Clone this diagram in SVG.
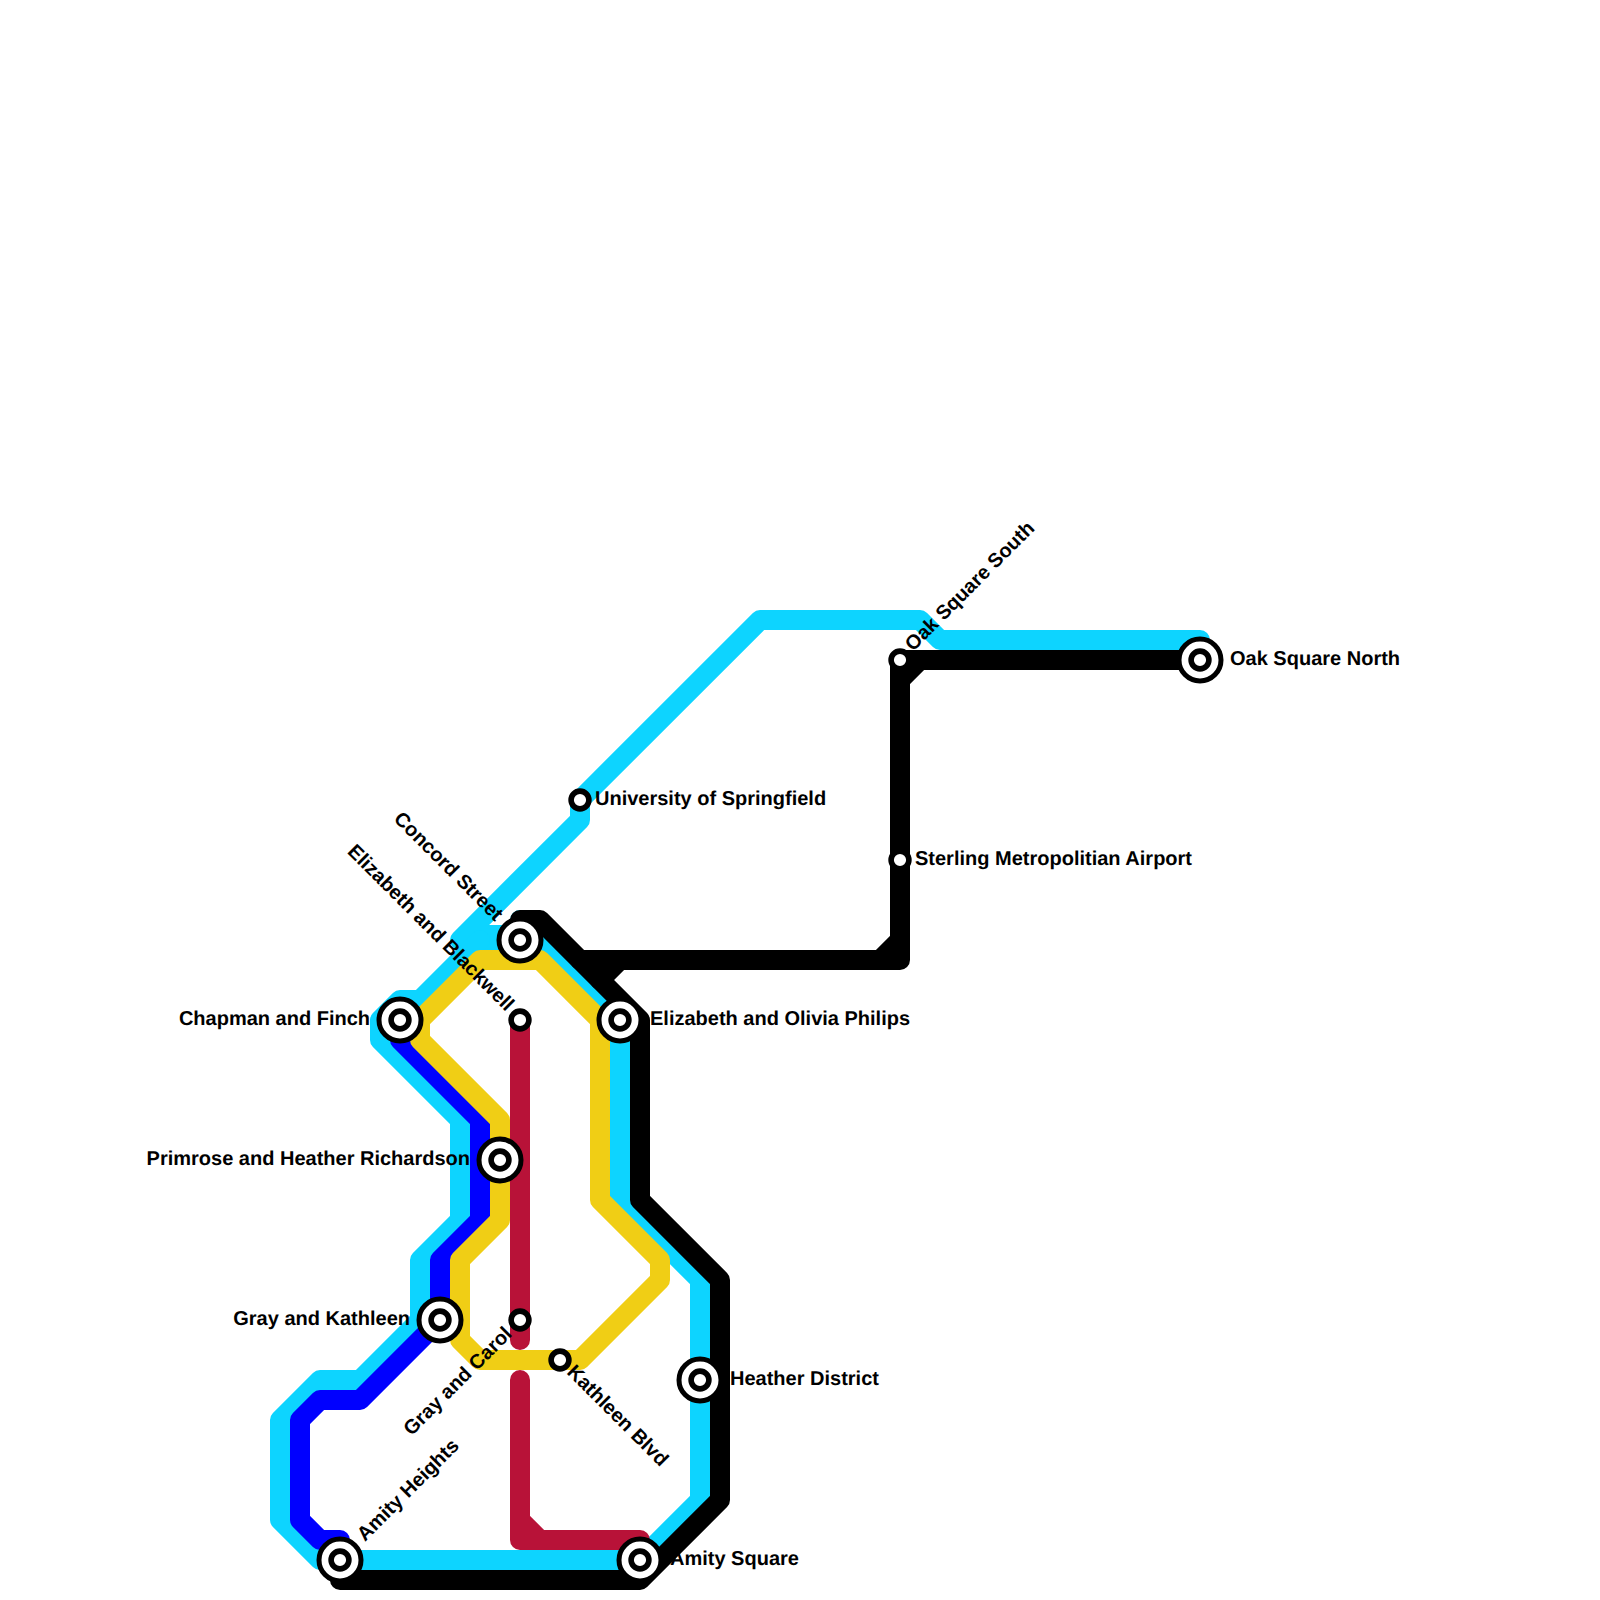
<svg xmlns="http://www.w3.org/2000/svg" width="1600" height="1600" viewBox="0 0 1600 1600">
<style>
.l{fill:none;stroke-width:20;stroke-linejoin:round;stroke-linecap:round}
.c{stroke:#0dd4ff}.b{stroke:#0000ff}.r{stroke:#b81238}.y{stroke:#f0ce15}.k{stroke:#000}
.o{fill:#fff;stroke:#000;stroke-width:5}
.s{fill:#fff;stroke:#000;stroke-width:5.6}
text{font-family:"Liberation Sans",Arial,sans-serif;font-weight:700;font-size:20px;fill:#000;text-rendering:geometricPrecision}
.e{text-anchor:end}
</style>
<g id="connectors">
<path class="l c" d="M1200 640H940L920 620H760L580 800V820L460 940H520M480 935H505"/>
<path class="l c" d="M480 940L420 1000H400L380 1020V1040L460 1120V1220L420 1260V1320L360 1380H320L280 1420V1520L320 1560H640L700 1500V1280L620 1200V1020L520 920"/>
<path class="l b" d="M400 1020V1040L480 1120V1220L440 1260V1320L360 1400H320L300 1420V1520L320 1540H340"/>
<path class="l r" d="M520 1020V1340M520 1380V1520L540 1540H640M520 1520V1540H540"/>
<path class="l y" d="M420 1020L480 960H540L600 1020V1200L660 1260V1280L580 1360H480L460 1340V1260L500 1220V1120L420 1040Z"/>
<path class="l k" d="M520 920H540L640 1020V1200L720 1280V1500L640 1580H340"/>
<path class="l k" d="M580 960H880L900 940V680L920 660H1200M900 680V660H920M880 960H900V940M620 960L600 980"/>
</g>
<g id="amity-heights"><circle class="o" cx="340" cy="1560" r="21"/><circle class="s" cx="340" cy="1560" r="8.9"/><text transform="translate(365 1542) rotate(-45)">Amity Heights</text></g>
<g id="amity-square"><circle class="o" cx="640" cy="1560" r="21"/><circle class="s" cx="640" cy="1560" r="8.9"/><text x="670" y="1565">Amity Square</text></g>
<g id="heather-district"><circle class="o" cx="700" cy="1380" r="21"/><circle class="s" cx="700" cy="1380" r="8.9"/><text x="730" y="1385">Heather District</text></g>
<g id="elizabeth-olivia"><circle class="o" cx="620" cy="1020" r="21"/><circle class="s" cx="620" cy="1020" r="8.9"/><text x="650" y="1025">Elizabeth and Olivia Philips</text></g>
<g id="concord-street"><circle class="o" cx="520" cy="940" r="21"/><circle class="s" cx="520" cy="940" r="8.9"/><text class="e" transform="translate(495 922) rotate(45)">Concord Street</text></g>
<g id="chapman-finch"><circle class="o" cx="400" cy="1020" r="21"/><circle class="s" cx="400" cy="1020" r="8.9"/><text class="e" x="370" y="1025">Chapman and Finch</text></g>
<g id="primrose-heather"><circle class="o" cx="500" cy="1160" r="21"/><circle class="s" cx="500" cy="1160" r="8.9"/><text class="e" x="470" y="1165">Primrose and Heather Richardson</text></g>
<g id="gray-kathleen"><circle class="o" cx="440" cy="1320" r="21"/><circle class="s" cx="440" cy="1320" r="8.9"/><text class="e" x="410" y="1325">Gray and Kathleen</text></g>
<g id="oak-square-north"><circle class="o" cx="1200" cy="660" r="21"/><circle class="s" cx="1200" cy="660" r="8.9"/><text x="1230" y="665">Oak Square North</text></g>
<g id="gray-carol"><circle class="s" cx="520" cy="1320" r="8.9"/><text class="e" transform="translate(513 1335) rotate(-45)">Gray and Carol</text></g>
<g id="kathleen-blvd"><circle class="s" cx="560" cy="1360" r="8.9"/><text transform="translate(566 1373) rotate(45)">Kathleen Blvd</text></g>
<g id="elizabeth-blackwell"><circle class="s" cx="520" cy="1020" r="8.9"/><text class="e" transform="translate(506 1012) rotate(45)">Elizabeth and Blackwell</text></g>
<g id="university"><circle class="s" cx="580" cy="800" r="8.9"/><text x="595" y="805">University of Springfield</text></g>
<g id="oak-square-south"><circle class="s" cx="900" cy="660" r="8.9"/><text transform="translate(913 652) rotate(-45)">Oak Square South</text></g>
<g id="sterling"><circle class="s" cx="900" cy="860" r="8.9"/><text x="915" y="865">Sterling Metropolitian Airport</text></g>
</svg>
